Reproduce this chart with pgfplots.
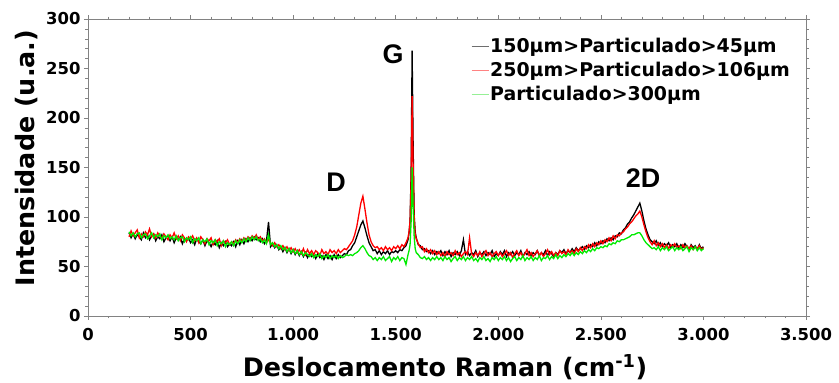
\documentclass[border=0pt]{standalone}
\usepackage{fontspec}
\setmainfont{DejaVu Sans}
\newfontfamily\arialfont{Liberation Sans}
\usepackage{pgfplots}
\usepackage{pgfplotstable}
\pgfplotsset{compat=1.18}
\definecolor{axgray}{RGB}{130,130,130}
\definecolor{sred}{RGB}{255,0,0}
\definecolor{sgreen}{RGB}{0,235,0}
\definecolor{lred}{RGB}{255,130,130}
\definecolor{lgreen}{RGB}{150,240,150}
\definecolor{lblack}{RGB}{110,110,110}

\pgfplotstableread{
x k r g
200 84 80 85
210 79 86 81
220 83 81 84
230 78 84 80
240 82 87 83
250 80 79 84
260 77 83 79
270 84 80 82
280 79 85 83
290 82 82 78
300 77 88 81
310 81 80 84
320 83 83 79
330 76 79 82
340 80 84 80
350 78 81 83
360 82 78 77
370 75 83 81
380 79 80 79
390 81 77 82
400 76 82 78
410 80 79 80
420 74 84 77
430 79 78 81
440 77 81 76
450 80 76 79
460 73 82 80
470 78 79 75
480 76 75 79
490 79 80 77
500 74 78 80
510 77 81 74
520 72 76 78
530 78 79 76
540 75 74 79
550 73 80 73
560 77 77 77
570 71 73 75
580 76 78 78
590 74 76 72
600 70 79 76
610 75 72 74
620 72 77 77
630 76 75 71
640 69 78 75
650 74 71 73
660 71 76 76
670 75 74 70
680 70 77 74
690 73 72 72
700 71 75 75
710 75 73 71
720 70 77 76
730 76 74 73
740 72 78 77
750 77 75 74
760 73 79 78
770 78 76 75
780 75 80 79
790 79 77 76
800 76 81 80
810 80 78 77
820 77 82 80
830 79 77 76
840 75 80 78
850 78 76 74
860 73 78 77
870 76 74 73
880 95 77 82
890 70 74 72
900 73 71 74
910 69 74 70
920 72 70 72
930 67 72 68
940 70 68 71
950 65 71 67
960 69 67 69
970 64 70 65
980 68 66 68
990 63 69 64
1000 67 65 67
1010 62 68 63
1020 66 64 66
1030 61 67 62
1040 65 63 65
1050 60 68 61
1060 64 62 64
1070 59 67 62
1080 63 63 60
1090 60 66 63
1100 62 62 59
1110 58 66 62
1120 63 64 60
1130 59 61 63
1140 61 67 58
1150 57 63 61
1160 62 65 59
1170 58 62 62
1180 61 67 58
1190 57 64 61
1200 62 66 59
1210 58 63 61
1220 62 67 58
1230 59 64 61
1240 61 66 59
1250 63 68 60
1260 62 67 62
1270 66 70 61
1280 67 73 62
1290 71 76 61
1300 74 82 63
1310 80 90 64
1320 86 102 66
1330 92 114 69
1340 96 121 71
1350 89 108 68
1360 81 94 64
1370 74 82 61
1380 70 75 60
1390 66 71 57
1400 67 69 59
1410 63 70 56
1420 66 67 59
1430 62 69 57
1440 65 66 60
1450 63 70 56
1460 66 67 58
1470 62 69 60
1480 65 66 55
1490 64 70 59
1500 66 68 57
1510 64 71 60
1520 67 68 56
1530 66 72 59
1540 69 70 58
1550 71 74 52
1560 77 79 62
1565 84 85 66
1570 96 96 72
1575 145 135 95
1580 268 222 150
1585 172 150 110
1590 102 98 80
1595 85 82 68
1600 79 78 64
1610 72 73 62
1620 71 69 59
1630 67 70 58
1640 68 65 60
1650 65 68 57
1660 66 64 59
1670 63 67 56
1680 66 63 59
1690 62 66 57
1700 65 62 60
1710 63 65 57
1720 66 61 59
1730 61 64 56
1740 65 60 60
1750 62 65 57
1760 66 62 59
1770 60 64 55
1780 64 61 58
1790 62 66 60
1800 65 62 56
1810 61 64 59
1820 66 60 57
1830 77 63 60
1840 62 65 56
1850 65 62 59
1860 61 79 57
1870 64 63 60
1880 62 60 56
1890 66 64 58
1900 60 61 55
1910 64 65 59
1920 62 60 57
1930 65 63 60
1940 61 66 56
1950 64 61 58
1960 62 64 55
1970 66 60 59
1980 60 63 57
1990 63 65 60
2000 61 61 56
2010 65 64 59
2020 62 60 57
2030 66 63 60
2040 60 66 56
2050 64 61 59
2060 62 64 55
2070 65 59 58
2080 61 63 60
2090 64 66 56
2100 62 61 59
2110 66 64 57
2120 60 60 61
2130 64 63 56
2140 62 67 59
2150 65 61 57
2160 61 64 60
2170 64 60 56
2180 62 63 59
2190 66 66 57
2200 61 61 61
2210 64 64 56
2220 62 60 59
2230 66 63 58
2240 61 67 61
2250 65 62 57
2260 63 65 60
2270 60 61 58
2280 64 64 62
2290 62 61 58
2300 66 66 61
2310 64 63 59
2320 67 65 62
2330 63 62 60
2340 66 67 63
2350 64 64 61
2360 68 66 64
2370 65 63 61
2380 69 68 64
2390 66 65 62
2400 68 69 65
2410 70 66 63
2420 67 70 66
2430 71 68 64
2440 69 72 67
2450 72 69 65
2460 70 73 68
2470 74 70 66
2480 71 74 69
2490 75 72 68
2500 73 76 70
2510 76 73 69
2520 74 77 71
2530 78 75 70
2540 76 79 73
2550 79 76 72
2560 77 81 74
2570 81 78 73
2580 80 82 76
2590 84 81 75
2600 83 84 77
2610 87 85 77
2620 89 88 78
2630 93 90 79
2640 95 93 80
2650 99 95 82
2660 102 98 82
2670 106 101 83
2680 110 103 84
2690 114 106 84
2700 106 100 81
2710 96 92 77
2720 88 85 74
2730 82 79 72
2740 77 75 70
2750 75 72 68
2760 73 76 69
2770 76 71 67
2780 71 74 70
2790 74 70 66
2800 70 73 69
2810 73 69 67
2820 71 72 70
2830 74 68 66
2840 69 72 68
2850 72 70 70
2860 70 73 66
2870 73 69 69
2880 68 71 67
2890 72 68 70
2900 69 72 66
2910 73 69 68
2920 70 71 70
2930 67 68 65
2940 72 71 69
2950 69 67 67
2960 71 70 70
2970 67 68 66
2980 72 71 69
2990 68 67 66
3000 70 69 68
}\spectra

\begin{document}
\begin{tikzpicture}
\begin{axis}[
  at={(0,0)}, anchor=south west,
  scale only axis, width=718bp, height=297bp,
  xmin=0, xmax=3500, ymin=0, ymax=300,
  xtick={0,500,...,3500}, ytick={0,50,...,300},
  minor x tick num=4, minor y tick num=4,
  tick align=outside,
  major tick length=4bp, minor tick length=2.5bp,
  axis line style={axgray, line width=0.8bp},
  every tick/.style={axgray, line width=0.6bp},
  /pgf/number format/1000 sep={.},
  /pgf/number format/assume math mode=true,
  tick label style={font=\fontsize{16.5}{16.5}\selectfont\bfseries, text=black},
  xticklabel style={yshift=-5bp},
  legend style={draw=none, fill=none, at={(0.529,0.945)}, anchor=north west,
    font=\fontsize{19}{21}\selectfont\bfseries, row sep=6bp,
    nodes={inner sep=1bp}},
  legend cell align=left,
  clip=true,
]
\addlegendimage{lblack, line width=1.2bp}
\addlegendentry{150µm>Particulado>45µm}
\addlegendimage{lred, line width=1.2bp}
\addlegendentry{250µm>Particulado>106µm}
\addlegendimage{lgreen, line width=1.2bp}
\addlegendentry{Particulado>300µm}
\addplot[black, line width=1.3bp, forget plot] table[x=x, y=k] {\spectra};
\addplot[sred, line width=1.3bp, forget plot] table[x=x, y=r] {\spectra};
\addplot[sgreen, line width=1.3bp, forget plot] table[x=x, y=g] {\spectra};
\node[font=\arialfont\fontsize{27}{27}\selectfont\bfseries] at (axis cs:1487,264) {G};
\node[font=\arialfont\fontsize{27}{27}\selectfont\bfseries] at (axis cs:1209,135) {D};
\node[font=\arialfont\fontsize{27}{27}\selectfont\bfseries] at (axis cs:2706,139) {2D};
\end{axis}
\node[font=\fontsize{25.5}{25.5}\selectfont\bfseries] at (357bp,-51bp) {Deslocamento Raman (cm\textsuperscript{-1})};
\node[rotate=90, font=\fontsize{25.5}{25.5}\selectfont\bfseries] at (-61bp,158bp) {Intensidade (u.a.)};
\pgfresetboundingbox
\useasboundingbox (-88bp,-67bp) rectangle (751bp,316bp);
\end{tikzpicture}
\end{document}
